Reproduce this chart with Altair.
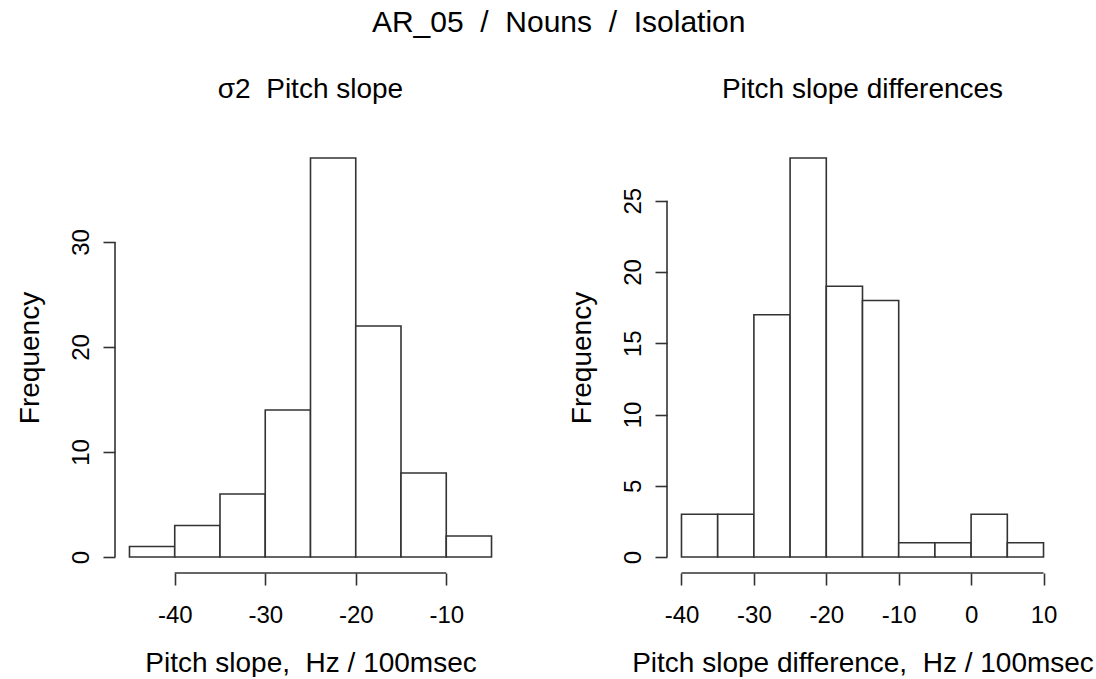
import altair as alt
import pandas as pd

FONT = "Liberation Sans"
LINE = "#333333"
LW = 1.6
NB = "\u00a0"

main_title = f"AR_05{NB} /{NB} Nouns{NB} /{NB} Isolation"
bin_width = 5

left_title = f"σ2{NB} Pitch slope"
left_xlabel = f"Pitch slope,{NB} Hz / 100msec"
left_bin_start = [-45, -40, -35, -30, -25, -20, -15, -10]
left_counts = [1, 3, 6, 14, 38, 22, 8, 2]
left_xticks = [-40, -30, -20, -10]
left_yticks = [0, 10, 20, 30]

right_title = "Pitch slope differences"
right_xlabel = f"Pitch slope difference,{NB} Hz / 100msec"
right_bin_start = [-40, -35, -30, -25, -20, -15, -10, -5, 0, 5]
right_counts = [3, 3, 17, 28, 19, 18, 1, 1, 3, 1]
right_xticks = [-40, -30, -20, -10, 0, 10]
right_yticks = [0, 5, 10, 15, 20, 25]

W, H = 391, 431


def panel(title, xlabel, starts, counts, xticks, yticks):
    lo, hi = starts[0], starts[-1] + bin_width
    xpad = (hi - lo) * 0.04
    ymax = max(counts)
    ypad = ymax * 0.04
    xdom = [lo - xpad, hi + xpad]
    ydom = [-ypad, ymax + ypad]
    df = pd.DataFrame({
        "x": starts,
        "x2": [s + bin_width for s in starts],
        "y": [0] * len(starts),
        "y2": counts,
    })
    xs = alt.Scale(domain=xdom, nice=False, zero=False)
    ys = alt.Scale(domain=ydom, nice=False, zero=False)
    xaxis = alt.Axis(
        values=xticks, domain=False, grid=False, tickSize=12, tickColor=LINE,
        tickWidth=LW, labelFont=FONT, labelFontSize=24, labelColor="black",
        labelPadding=18, labelFlush=False, labelExpr="'' + datum.value",
        title=xlabel, titleFont=FONT, titleFontSize=28, titleFontWeight="normal",
        titleColor="black", titleY=98, titleBaseline="alphabetic",
    )
    yaxis = alt.Axis(
        values=yticks, domain=False, grid=False, tickSize=12, tickColor=LINE,
        tickWidth=LW, labelFont=FONT, labelFontSize=24, labelColor="black",
        labelAngle=270, labelAlign="center", labelBaseline="bottom",
        labelPadding=10, labelFlush=False, labelExpr="'' + datum.value",
        title="Frequency", titleFont=FONT, titleFontSize=28,
        titleFontWeight="normal", titleColor="black", titleAngle=270,
        titleX=-77, titleY=H / 2, titleAlign="center", titleBaseline="alphabetic",
    )
    bars = alt.Chart(df).mark_rect(fill="white", stroke=LINE, strokeWidth=LW).encode(
        x=alt.X("x:Q", scale=xs, axis=xaxis),
        x2="x2:Q",
        y=alt.Y("y:Q", scale=ys, axis=yaxis),
        y2="y2:Q",
    )
    xline_df = pd.DataFrame({"a": [xticks[0]], "b": [xticks[-1]], "c": [ydom[0]]})
    xline = alt.Chart(xline_df).mark_rule(color=LINE, strokeWidth=LW).encode(
        x=alt.X("a:Q", scale=xs), x2="b:Q", y=alt.Y("c:Q", scale=ys)
    )
    yline_df = pd.DataFrame({"a": [yticks[0]], "b": [yticks[-1]], "c": [xdom[0]]})
    yline = alt.Chart(yline_df).mark_rule(color=LINE, strokeWidth=LW).encode(
        y=alt.Y("a:Q", scale=ys), y2="b:Q", x=alt.X("c:Q", scale=xs)
    )
    return alt.layer(bars, xline, yline).properties(
        width=W, height=H,
        title=alt.TitleParams(
            title, font=FONT, fontSize=28, fontWeight="normal", color="black",
            anchor="middle", frame="group", baseline="alphabetic", offset=16,
        ),
    )


left = panel(left_title, left_xlabel, left_bin_start, left_counts, left_xticks, left_yticks)
right = panel(right_title, right_xlabel, right_bin_start, right_counts, right_xticks, right_yticks)

chart = alt.hconcat(left, right, spacing=62).properties(
    title=alt.TitleParams(
        main_title, font=FONT, fontSize=30, fontWeight="normal", color="black",
        anchor="middle", baseline="alphabetic", offset=14, dx=4,
    ),
    padding={"left": 16, "top": 8, "right": 0, "bottom": 0},
    background="white",
).configure_view(stroke=None)

chart.save("out.html", embed_options={"renderer": "svg", "actions": False})
